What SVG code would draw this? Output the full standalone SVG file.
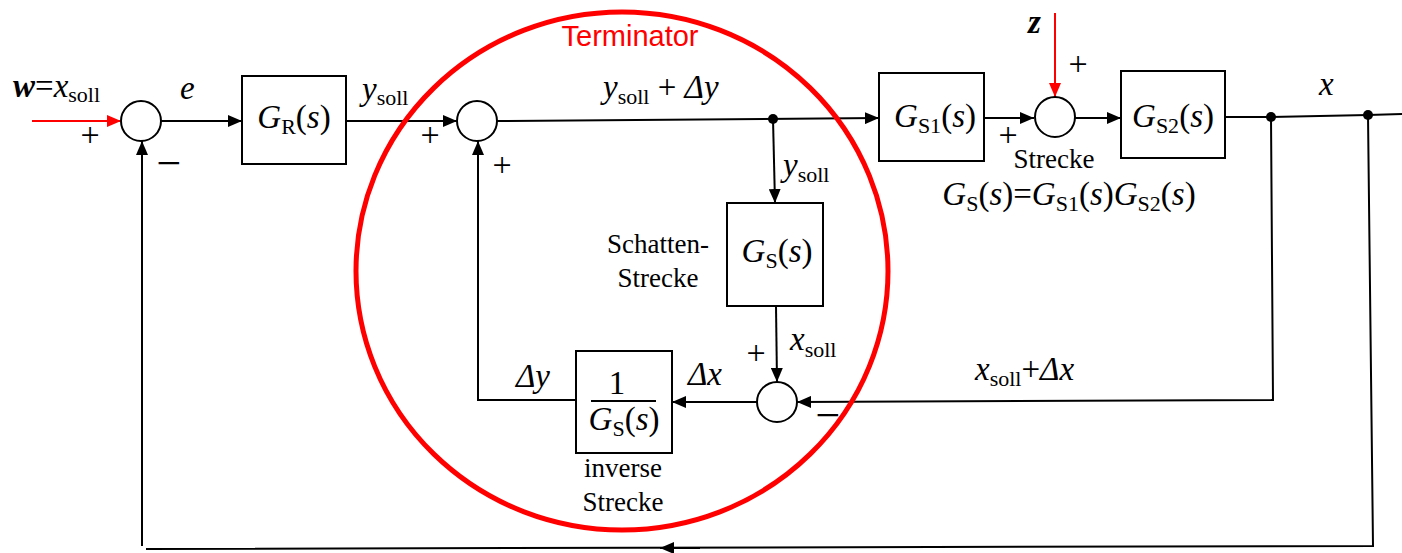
<svg xmlns="http://www.w3.org/2000/svg" width="1402" height="553" viewBox="0 0 1402 553">
<style>
  .ln { fill: none; stroke: #000; stroke-width: 2; }
  .red { fill: none; stroke: #f00; stroke-width: 2; }
  .box { fill: #fff; stroke: #000; stroke-width: 2; }
  .sum { fill: #fff; stroke: #000; stroke-width: 2; }
  .dot { fill: #000; }
  .m { font-family: "Liberation Serif", "Times New Roman", serif; font-size: 33px; fill: #000; }
  .t { font-family: "Liberation Serif", "Times New Roman", serif; font-size: 27px; fill: #000; }
  .sg { font-family: "Liberation Serif", "Times New Roman", serif; font-size: 34px; fill: #000; text-anchor: middle; }
  .mn { font-family: "Liberation Serif", "Times New Roman", serif; font-size: 44px; fill: #000; text-anchor: middle; }
  .i { font-style: italic; }
  .sub { font-size: 22px; }
  .term { font-family: "Liberation Sans", Arial, sans-serif; font-size: 29px; fill: #f00; text-anchor: middle; }
</style>
<defs>
  <marker id="ah" markerWidth="14" markerHeight="12" refX="14" refY="6" orient="auto" markerUnits="userSpaceOnUse">
    <path d="M0,0 L14,6 L0,12 Z" fill="#000"/>
  </marker>
  <marker id="ahr" markerWidth="14" markerHeight="12" refX="14" refY="6" orient="auto" markerUnits="userSpaceOnUse">
    <path d="M0,0 L14,6 L0,12 Z" fill="#f00"/>
  </marker>
</defs>
<rect x="0" y="0" width="1402" height="553" fill="#fff"/>

<g id="connectors">
  <line class="red" x1="32" y1="121" x2="121" y2="121" marker-end="url(#ahr)"/>
  <line class="ln" x1="161" y1="121" x2="242" y2="121" marker-end="url(#ah)"/>
  <line class="ln" x1="346" y1="121" x2="457" y2="121" marker-end="url(#ah)"/>
  <line class="ln" x1="497" y1="121" x2="879" y2="118" marker-end="url(#ah)"/>
  <line class="ln" x1="773" y1="119" x2="775" y2="203" marker-end="url(#ah)"/>
  <line class="ln" x1="984" y1="118" x2="1034" y2="118" marker-end="url(#ah)"/>
  <line class="red" x1="1055" y1="13" x2="1055" y2="97" marker-end="url(#ahr)"/>
  <line class="ln" x1="1075" y1="118" x2="1121" y2="118" marker-end="url(#ah)"/>
  <polyline class="ln" points="1225,117 1271,117 1368,115 1402,114"/>
  <polyline class="ln" points="1271,117 1273,400 797,402" marker-end="url(#ah)"/>
  <line class="ln" x1="776" y1="306" x2="777" y2="382" marker-end="url(#ah)"/>
  <line class="ln" x1="757" y1="402" x2="672" y2="402" marker-end="url(#ah)"/>
  <polyline class="ln" points="576,400 478,400 478,141" marker-end="url(#ah)"/>
  <polyline class="ln" points="1368,115 1373,546 146,549"/>
  <line class="ln" x1="700" y1="548" x2="660" y2="548" marker-end="url(#ah)"/>
  <line class="ln" x1="142" y1="546" x2="142" y2="141" marker-end="url(#ah)"/>
</g>

<g id="input-w">
  <text class="m" x="13" y="97" font-size="34"><tspan class="i" font-weight="bold">w</tspan>=<tspan class="i">x</tspan><tspan class="sub" dy="5">soll</tspan></text>
</g>

<g id="sum1">
  <circle class="sum" cx="141" cy="121" r="20"/>
  <text class="sg" x="90" y="146">+</text>
  <text class="mn" x="169" y="178">−</text>
</g>

<g id="label-e">
  <text class="m i" x="180" y="99">e</text>
</g>

<g id="GR">
  <rect class="box" x="242" y="76" width="104" height="88"/>
  <text class="m" x="294" y="128" text-anchor="middle"><tspan class="i">G</tspan><tspan class="sub" dy="6">R</tspan><tspan dy="-6">(</tspan><tspan class="i">s</tspan>)</text>
</g>

<g id="label-ysoll1">
  <text class="m" x="362" y="100"><tspan class="i">y</tspan><tspan class="sub" dy="5">soll</tspan></text>
</g>

<g id="sum2">
  <circle class="sum" cx="477" cy="121" r="20"/>
  <text class="sg" x="430" y="146">+</text>
  <text class="sg" x="502" y="176">+</text>
</g>

<g id="label-ysoll-dy">
  <text class="m" x="603" y="98"><tspan class="i">y</tspan><tspan class="sub" dy="6">soll</tspan><tspan dy="-6"> + </tspan><tspan class="i">Δy</tspan></text>
</g>

<g id="split">
  <circle class="dot" cx="773" cy="119" r="5"/>
  <text class="m" x="783" y="176"><tspan class="i">y</tspan><tspan class="sub" dy="6">soll</tspan></text>
</g>

<g id="GS1">
  <rect class="box" x="879" y="73" width="105" height="88"/>
  <text class="m" x="935" y="127" text-anchor="middle"><tspan class="i">G</tspan><tspan class="sub" dy="6">S1</tspan><tspan dy="-6">(</tspan><tspan class="i">s</tspan>)</text>
</g>

<g id="sum3">
  <circle class="sum" cx="1055" cy="117" r="20"/>
  <text class="m i" x="1028" y="33" font-weight="bold" font-size="30">z</text>
  <text class="sg" x="1078" y="75">+</text>
  <text class="sg" x="1008" y="146">+</text>
  <text class="t" x="1054" y="168" text-anchor="middle">Strecke</text>
  <text class="m" x="1069" y="205" text-anchor="middle"><tspan class="i">G</tspan><tspan class="sub" dy="6">S</tspan><tspan dy="-6">(</tspan><tspan class="i">s</tspan>)=<tspan class="i">G</tspan><tspan class="sub" dy="6">S1</tspan><tspan dy="-6">(</tspan><tspan class="i">s</tspan>)<tspan class="i">G</tspan><tspan class="sub" dy="6">S2</tspan><tspan dy="-6">(</tspan><tspan class="i">s</tspan>)</text>
</g>

<g id="GS2">
  <rect class="box" x="1121" y="71" width="104" height="87"/>
  <text class="m" x="1173" y="127" text-anchor="middle"><tspan class="i">G</tspan><tspan class="sub" dy="6">S2</tspan><tspan dy="-6">(</tspan><tspan class="i">s</tspan>)</text>
</g>

<g id="output-x">
  <circle class="dot" cx="1271" cy="117" r="5"/>
  <circle class="dot" cx="1368" cy="115" r="5"/>
  <text class="m i" x="1319" y="95">x</text>
</g>

<g id="shadow">
  <rect class="box" x="727" y="203" width="96" height="103"/>
  <text class="m" x="777" y="262" text-anchor="middle"><tspan class="i">G</tspan><tspan class="sub" dy="6">S</tspan><tspan dy="-6">(</tspan><tspan class="i">s</tspan>)</text>
  <text class="t" x="658" y="253" text-anchor="middle">Schatten-</text>
  <text class="t" x="658" y="287" text-anchor="middle">Strecke</text>
</g>

<g id="sum4">
  <circle class="sum" cx="777" cy="402" r="20"/>
  <text class="sg" x="756" y="364">+</text>
  <text class="m" x="790" y="350"><tspan class="i">x</tspan><tspan class="sub" dy="7">soll</tspan></text>
  <text class="mn" x="828" y="430">−</text>
</g>

<g id="label-xsoll-dx">
  <text class="m" x="975" y="380"><tspan class="i">x</tspan><tspan class="sub" dy="6">soll</tspan><tspan dy="-6">+</tspan><tspan class="i">Δx</tspan></text>
</g>

<g id="inverse">
  <rect class="box" x="576" y="351" width="96" height="102"/>
  <text class="m" x="617" y="394" text-anchor="middle">1</text>
  <line class="ln" x1="591" y1="401" x2="656" y2="401"/>
  <text class="m" x="624" y="430" text-anchor="middle"><tspan class="i">G</tspan><tspan class="sub" dy="6">S</tspan><tspan dy="-6">(</tspan><tspan class="i">s</tspan>)</text>
  <text class="m i" x="705" y="385" text-anchor="middle">Δx</text>
  <text class="m i" x="533" y="387" text-anchor="middle">Δy</text>
  <text class="t" x="623" y="477" text-anchor="middle">inverse</text>
  <text class="t" x="623" y="511" text-anchor="middle">Strecke</text>
</g>

<g id="terminator">
  <ellipse cx="622" cy="271" rx="266" ry="259" fill="none" stroke="#f00" stroke-width="5"/>
  <text class="term" x="630" y="46">Terminator</text>
</g>
</svg>
